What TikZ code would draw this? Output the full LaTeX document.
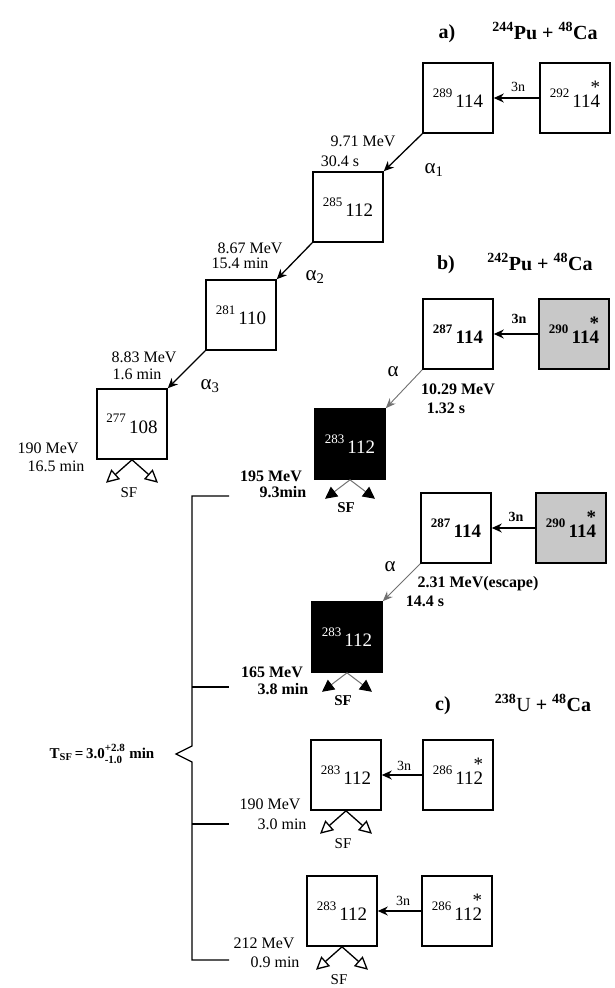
\documentclass[tikz,border=0pt]{standalone}
\usepackage{fontspec}
\setmainfont{Liberation Serif}
\usetikzlibrary{arrows.meta}
\definecolor{hotgray}{HTML}{C8C8C8}
\definecolor{linegray}{HTML}{707070}
\newcommand{\nuc}[2]{\raisebox{0.55em}{\fontsize{13}{13}\selectfont #1}\,#2}
\newcommand{\topstar}[1]{\ooalign{#1\cr\hidewidth\raisebox{0.74em}{*}\hidewidth\cr}}

\begin{document}
\begin{tikzpicture}[x=1pt,y=-1pt,
  nucbox/.style={draw,line width=1.6pt,minimum size=70pt,inner sep=0pt,font=\fontsize{19}{20}\selectfont},
  boldbox/.style={nucbox,font=\fontsize{19}{20}\selectfont\bfseries},
  hotbox/.style={boldbox,fill=hotgray},
  darkbox/.style={nucbox,fill=black,text=white},
  lab/.style={inner sep=0pt,font=\fontsize{16}{16}\selectfont},
  blab/.style={inner sep=0pt,font=\fontsize{16}{16}\selectfont\bfseries},
  greek/.style={inner sep=0pt,font=\fontsize{21}{21}\selectfont},
  head/.style={inner sep=0pt,font=\fontsize{20}{20}\selectfont\bfseries},
  decay/.style={line width=1.3pt,-{Stealth[length=10pt,width=9pt]}},
  thindecay/.style={line width=0.9pt,linegray,-{Stealth[length=10pt,width=8pt]}},
  sfopen/.style={line width=1.3pt,-{Triangle[open,length=13pt,width=13pt,line width=1.3pt]}},
  sfdark/.style={line width=1pt,linegray,-{Triangle[length=12pt,width=12pt,black]}},
]
\useasboundingbox (0,0) rectangle (615,988);

% a) 244Pu + 48Ca
\node[head] (a-tag) at (447,34) {a)};
\node[head] (a-rx) at (545,31) {\textsuperscript{244}Pu + \textsuperscript{48}Ca};
\node[nucbox] (a0) at (575,98) {\nuc{292}{11\topstar{4}}};
\node[nucbox] (a1) at (458,98) {\nuc{289}{114}};
\node[nucbox] (a2) at (348,207) {\nuc{285}{112}};
\node[nucbox] (a3) at (241,315) {\nuc{281}{110}};
\node[nucbox] (a4) at (132,424) {\nuc{277}{108}};
\draw[decay] (a0) -- (a1);
\node[lab,font=\fontsize{14}{14}\selectfont] (a-3n) at (518,87) {3n};
\draw[decay] (a1.south west) -- (a2.north east);
\draw[decay] (a2.south west) -- (a3.north east);
\draw[decay] (a3.south west) -- (a4.north east);
\node[lab] (a2-e) at (363,141) {9.71 MeV};
\node[lab] (a2-t) at (340,161) {30.4 s};
\node[greek] (a2-al) at (434,170) {α\textsubscript{1}};
\node[lab] (a3-e) at (250,248) {8.67 MeV};
\node[lab] (a3-t) at (240,263) {15.4 min};
\node[greek] (a3-al) at (315,277) {α\textsubscript{2}};
\node[lab] (a4-e) at (144,357) {8.83 MeV};
\node[lab] (a4-t) at (137,374) {1.6 min};
\node[greek] (a4-al) at (210,386) {α\textsubscript{3}};
\node[lab] (a4-e2) at (48,448) {190 MeV};
\node[lab] (a4-t2) at (56,466) {16.5 min};

% b) 242Pu + 48Ca, two chains
\node[head] (b-tag) at (446,265) {b)};
\node[head] (b-rx) at (540,262) {\textsuperscript{242}Pu + \textsuperscript{48}Ca};
\node[hotbox] (b0) at (574,334) {\nuc{290}{11\topstar{4}}};
\node[boldbox] (b1) at (458,334) {\nuc{287}{114}};
\node[darkbox] (b2) at (350,444) {\nuc{283}{112}};
\draw[decay] (b0) -- (b1);
\node[blab,font=\fontsize{14}{14}\selectfont\bfseries] (b-3n) at (519,319) {3n};
\draw[thindecay] (b1.south west) -- (b2.north east);
\node[greek] (b2-al) at (393,372) {α};
\node[blab] (b2-e) at (458,389) {10.29 MeV};
\node[blab] (b2-t) at (446,408) {1.32 s};
\node[blab] (b2-e2) at (271,476) {195 MeV};
\node[blab] (b2-t2) at (283,492) {9.3min};

\node[hotbox] (bb0) at (571,528) {\nuc{290}{11\topstar{4}}};
\node[boldbox] (bb1) at (456,528) {\nuc{287}{114}};
\node[darkbox] (bb2) at (347,637) {\nuc{283}{112}};
\draw[decay] (bb0) -- (bb1);
\node[blab,font=\fontsize{14}{14}\selectfont\bfseries] (bb-3n) at (516,517) {3n};
\draw[thindecay] (bb1.south west) -- (bb2.north east);
\node[greek] (bb2-al) at (390,567) {α};
\node[blab] (bb2-e) at (478,584) {2.31 MeV(escape)};
\node[blab] (bb2-t) at (425,601) {14.4 s};
\node[blab] (bb2-e2) at (272,672) {165 MeV};
\node[blab] (bb2-t2) at (283,689) {3.8 min};

% c) 238U + 48Ca
\node[head] (c-tag) at (443,706) {c)};
\node[head] (c-rx) at (543,703) {\textsuperscript{238}{\mdseries U} + \textsuperscript{48}Ca};
\node[nucbox] (c0) at (458,775) {\nuc{286}{11\topstar{2}}};
\node[nucbox] (c1) at (346,775) {\nuc{283}{112}};
\draw[decay] (c0) -- (c1);
\node[lab,font=\fontsize{14}{14}\selectfont] (c-3n) at (404,766) {3n};
\node[lab] (c1-e) at (270,804) {190 MeV};
\node[lab] (c1-t) at (282,824) {3.0 min};

\node[nucbox] (cc0) at (457,911) {\nuc{286}{11\topstar{2}}};
\node[nucbox] (cc1) at (342,911) {\nuc{283}{112}};
\draw[decay] (cc0) -- (cc1);
\node[lab,font=\fontsize{14}{14}\selectfont] (cc-3n) at (403,901) {3n};
\node[lab] (cc1-e) at (264,943) {212 MeV};
\node[lab] (cc1-t) at (275,962) {0.9 min};

% fission arrows
\foreach \b in {a4,c1,cc1} {
  \coordinate (\b-sfl) at ([shift={(-26,23)}]\b.south);
  \coordinate (\b-sfr) at ([shift={(26,23)}]\b.south);
  \draw[sfopen] (\b.south) -- (\b-sfl);
  \draw[sfopen] (\b.south) -- (\b-sfr);
  \node[lab,font=\fontsize{15}{15}\selectfont] (\b-sf) at ([shift={(-3,33)}]\b.south) {SF};
}
\foreach \b in {b2,bb2} {
  \coordinate (\b-sfl) at ([shift={(-25,19)}]\b.south);
  \coordinate (\b-sfr) at ([shift={(25,19)}]\b.south);
  \draw[sfdark] (\b.south) -- (\b-sfl);
  \draw[sfdark] (\b.south) -- (\b-sfr);
  \node[blab,font=\fontsize{15}{15}\selectfont\bfseries] (\b-sf) at ([shift={(-4,28)}]\b.south) {SF};
}

% common half-life bracket
\node[blab,font=\fontsize{15}{15}\selectfont\bfseries] (tsf) at (102,754)
  {T\textsubscript{SF}\,=\,3.0{\fontsize{11}{11}\selectfont\makebox[22pt][l]{\rlap{\raisebox{0.62em}{+2.8}}\raisebox{-0.45em}{-1.0}}}\,min};
\coordinate (br-top) at (229,496);
\coordinate (br-bot) at (229,960);
\coordinate (br-tip) at (176,754);
\draw[line width=1.2pt] (br-top) -- (192,496) -- (192,746) -- (br-tip) -- (192,762) -- (192,960) -- (br-bot);
\draw[line width=1.2pt] (192,687) -- (229,687);
\draw[line width=1.2pt] (192,824) -- (229,824);
\end{tikzpicture}
\end{document}
